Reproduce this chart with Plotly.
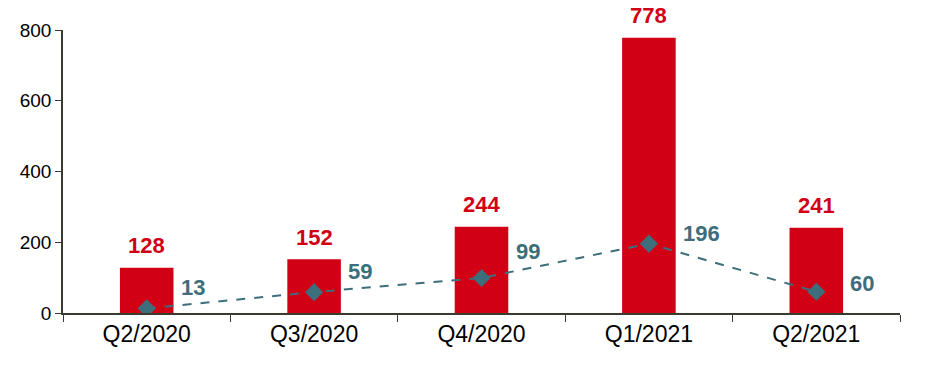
import plotly.graph_objects as go

categories = ["Q2/2020", "Q3/2020", "Q4/2020", "Q1/2021", "Q2/2021"]
bar_values = [128, 152, 244, 778, 241]
line_values = [13, 59, 99, 196, 60]

# per-label vertical offsets (style only)
line_label_yshift = [21, 21, 26, 10, 8]

RED = "#d10015"
TEAL = "#3c6e7b"
FONT = "Liberation Sans, Arial, sans-serif"

fig = go.Figure()
fig.add_trace(go.Bar(x=categories, y=bar_values, marker_color=RED, width=0.32,
                     marker_line_width=0, hoverinfo="skip"))
fig.add_trace(go.Scatter(x=categories, y=line_values, mode="lines+markers",
                         line=dict(color=TEAL, width=2, dash="dash"),
                         marker=dict(symbol="diamond", size=14, color=TEAL),
                         hoverinfo="skip"))

annotations = []
for c, v in zip(categories, bar_values):
    annotations.append(dict(x=c, y=v, text=f"<b>{v}</b>", showarrow=False,
                            yanchor="middle", yshift=22,
                            font=dict(color=RED, size=22, family=FONT)))
for c, v, ys in zip(categories, line_values, line_label_yshift):
    annotations.append(dict(x=c, y=v, text=f"<b>{v}</b>", showarrow=False,
                            xanchor="left", xshift=32, yanchor="middle", yshift=ys,
                            font=dict(color=TEAL, size=22, family=FONT)))

fig.update_layout(
    width=926, height=369,
    margin=dict(l=54, r=34, t=19, b=64),
    paper_bgcolor="white", plot_bgcolor="white",
    showlegend=False,
    annotations=annotations,
    font=dict(family=FONT, color="black"),
    bargap=0.68,
)
fig.update_xaxes(showline=True, linecolor="#3a3a2e", linewidth=1.5,
                 ticks="outside", tickson="boundaries", ticklen=7, tickcolor="#3a3a2e",
                 tickfont=dict(size=23, color="black"), showgrid=False)
fig.update_yaxes(range=[0, 800], dtick=200, showline=True, linecolor="#3a3a2e", linewidth=1.5,
                 ticks="outside", ticklen=6, tickcolor="#3a3a2e",
                 tickfont=dict(size=19, color="black"), showgrid=False, zeroline=False)

fig.write_html("out.html")
